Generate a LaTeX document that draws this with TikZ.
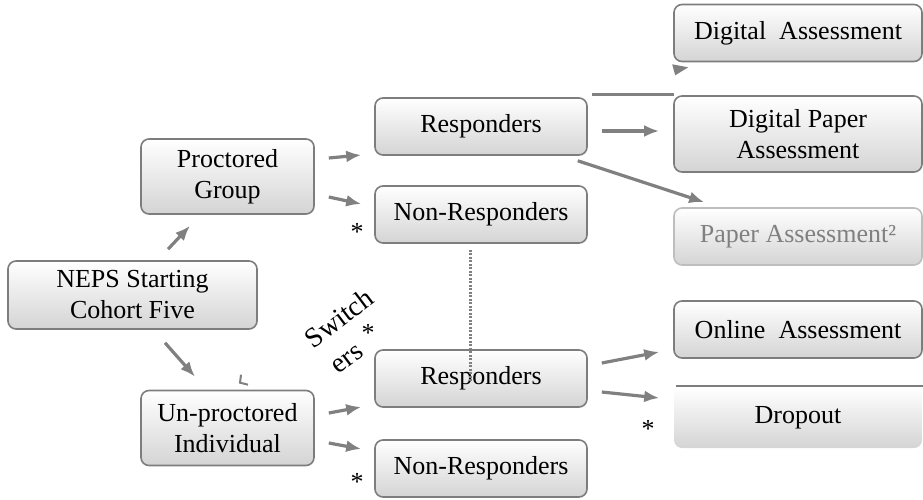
\documentclass[tikz,border=0pt]{standalone}
\usepackage{fontspec}
\setmainfont{Liberation Serif}
\usetikzlibrary{arrows.meta}
\definecolor{boxline}{RGB}{125,125,125}
\definecolor{boxfill}{RGB}{212,212,212}
\definecolor{arrgray}{RGB}{128,128,128}
\definecolor{fadeline}{RGB}{190,190,190}
\begin{document}
\begin{tikzpicture}[x=1pt,y=-1pt,
	box/.style={draw=boxline,line width=1.6pt,rounded corners=8pt,top color=white,bottom color=boxfill,
		align=center,inner sep=0pt,font=\fontsize{26}{31}\selectfont},
	groupbox/.style={box,minimum width=173pt,minimum height=75pt},
	respbox/.style={box,minimum width=212pt,minimum height=57pt},
	modebox/.style={box,minimum width=248pt,minimum height=57pt},
	arr/.style={draw=arrgray,line width=3.2pt,-{Latex[length=15pt,width=12pt]}},
	star/.style={font=\fontsize{26}{31}\selectfont,inner sep=0pt}]
	%Cadre
	\useasboundingbox (0,0) rectangle (923,500) ;
	%Boites
	\path	(132.5,295)	node [box,minimum width=249pt,minimum height=68pt]	(neps)	{NEPS Starting\\Cohort Five}	;
	\path	(227.5,176.5)	node [groupbox]	(proc)		{Proctored\\Group}			;
	\path	(227.5,428)	node [groupbox]	(unproc)	{Un-proctored\\Individual}		;
	\path	(481,126.5)	node [respbox]	(respA)		{Responders}				;
	\path	(481,214.5)	node [respbox]	(nonrespA)	{Non-Responders}			;
	\path	(481,378.5)	node [respbox]	(respB)		{Responders}				;
	\path	(481,468.5)	node [respbox]	(nonrespB)	{Non-Responders}			;
	\path	(798,33)	node [modebox]	(digital)	{Digital\ \ Assessment}			;
	\path	(798,134)	node [modebox,minimum height=76pt]	(digpaper)	{Digital Paper\\Assessment}	;
	\path	(798,236.5)	node [modebox,draw=fadeline,text=arrgray]	(paper)	{Paper Assessment²}	;
	\path	(798,329.5)	node [modebox]	(online)	{Online\ \ Assessment}			;
	\path	(798,417.5)	node [modebox,draw=none,minimum height=61pt]	(dropout)	{Dropout}	;
	\draw [boxline,line width=1.6pt]	([xshift=3pt]dropout.north west) -- (dropout.north east)	;
	%Fleches
	\draw [arr]	([xshift=35.5pt,yshift=11pt]neps.north)	-- ([xshift=-37.5pt,yshift=-11pt]proc.south)	;
	\draw [arr]	([xshift=32.5pt,yshift=-13pt]neps.south)	-- ([xshift=-32.5pt,yshift=13pt]unproc.north)	;
	\draw [arr]	([xshift=14pt,yshift=18.5pt]proc.east)	-- ([xshift=-13pt,yshift=-28.5pt]respA.west)	;
	\draw [arr]	([xshift=14pt,yshift=-20.5pt]proc.east)	-- ([xshift=-13pt,yshift=10.5pt]nonrespA.west)	;
	\draw [arr]	([xshift=14pt,yshift=15pt]unproc.east)	-- ([xshift=-13pt,yshift=-28.5pt]respB.west)	;
	\draw [arr]	([xshift=14pt,yshift=-15pt]unproc.east)	-- ([xshift=-13pt,yshift=19.5pt]nonrespB.west)	;
	\draw [arr]	([xshift=14pt,yshift=-4.5pt]respA.east)	-- ([xshift=-14pt,yshift=3pt]digpaper.west)	;
	\draw [arr]	([xshift=-10pt,yshift=-5pt]respA.south east)	-- ([xshift=31pt,yshift=5pt]paper.north west)	;
	\draw [arr]	([xshift=14pt,yshift=15.5pt]respB.east)	-- ([xshift=-14pt,yshift=-22.5pt]online.west)	;
	\draw [arr]	([xshift=14pt,yshift=-13.5pt]respB.east)	-- ([xshift=-14pt,yshift=19.5pt]dropout.west)	;
	%Fleche cassee
	\draw [arrgray,line width=3.2pt]	([xshift=4pt,yshift=3pt]respA.north east)	-- ([xshift=1pt,yshift=1pt]digpaper.north west)	;
	\fill [arrgray]	([xshift=-1pt,yshift=-2pt]digital.south west) -- ++(16,3) -- ++(-13,8) -- cycle	;
	\draw [arrgray,line width=2pt]	([xshift=13.5pt,yshift=15pt]unproc.north) -- ++(-1,8) -- ++(8,2)	;
	%Pointilles
	\draw [arrgray,line width=3pt,dash pattern=on 2pt off 1.5pt]	([xshift=-11pt,yshift=-6pt]nonrespA.south)	-- ([xshift=-11pt,yshift=-33pt]respB.north)	;
	%Etoiles
	\path	(357,232)	node [star]	(starA)	{*}	;
	\path	(357,482)	node [star]	(starB)	{*}	;
	\path	(648,429)	node [star]	(starC)	{*}	;
	\path	(368,333)	node [star]	(starD)	{*}	;
	%Switchers
	\path	(339,318)	node [star,rotate=37,font=\fontsize{28}{32}\selectfont]	(switchA)	{Switch}	;
	\path	(348,360)	node [star,rotate=37,font=\fontsize{28}{32}\selectfont]	(switchB)	{ers}		;
\end{tikzpicture}
\end{document}
